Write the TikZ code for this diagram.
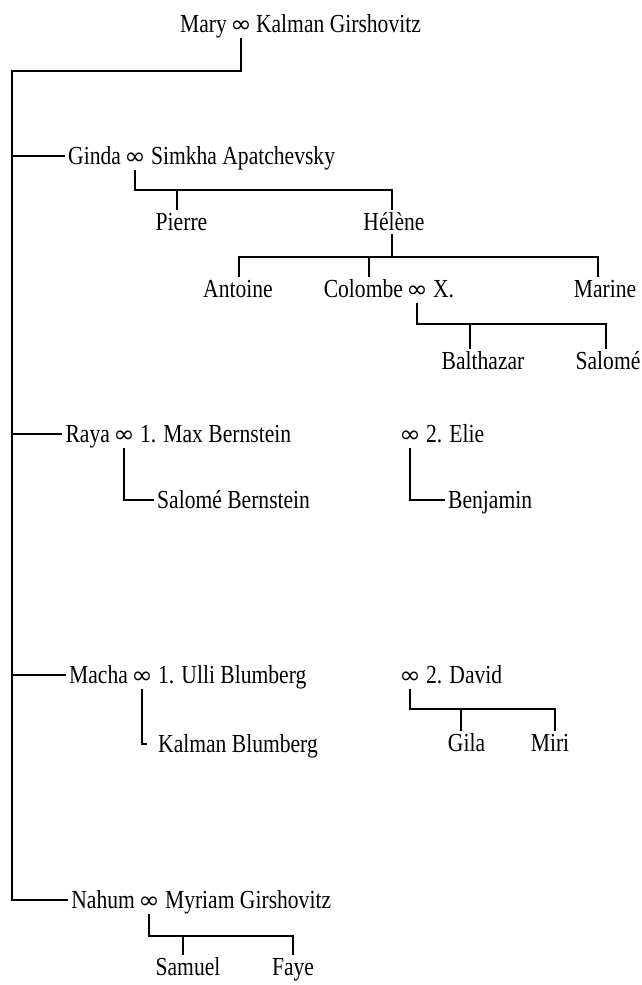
\documentclass[tikz,border=0pt]{standalone}
\usepackage{fontspec}
\usepackage{graphicx}
\setmainfont{Liberation Serif}[FakeStretch=0.83]
\newfontfamily\infont{DejaVu Sans}[Scale=0.95]
\newcommand{\marr}{\scalebox{1.08}[1]{\infont ∞}}
\tikzset{
  fam/.style={font=\fontsize{26}{30}\selectfont, inner xsep=3pt, inner ysep=3pt, text height=17pt, text depth=1pt},
  mar/.style={font=\fontsize{25}{30}\selectfont, inner xsep=0pt, inner ysep=6pt, text depth=0pt, anchor=base},
  link/.style={line width=1.1pt}
}
\begin{document}
\begin{tikzpicture}[x=1pt,y=-1pt]
\useasboundingbox (0,0) rectangle (642,985);
% top couple
\node[mar] (m0) at (241,32) {\marr};
\node[fam, anchor=base east] (mary) at (m0.base west) {Mary};
\node[fam, anchor=base west] (kalman) at ([xshift=1pt]m0.base east) {Kalman Girshovitz};
% Ginda
\node[mar] (m1) at (135,164) {\marr};
\node[fam, anchor=base east] (ginda) at (m1.base west) {Ginda};
\node[fam, anchor=base west] (simkha) at ([xshift=2pt]m1.base east) {Simkha Apatchevsky};
\node[fam, anchor=base] (pierre) at (181.5,230) {Pierre};
\node[fam, anchor=base] (helene) at (394,230) {Hélène};
\node[fam, anchor=base] (antoine) at (238,297) {Antoine};
\node[mar] (m2) at (417,297) {\marr};
\node[fam, anchor=base east] (colombe) at (m2.base west) {Colombe};
\node[fam, anchor=base west] (xx) at ([xshift=2pt]m2.base east) {X.};
\node[fam, anchor=base] (marine) at (605,297) {Marine};
\node[fam, anchor=base] (balthazar) at (483,369) {Balthazar};
\node[fam, anchor=base] (salome) at (608,369) {Salomé};
% Raya
\node[mar] (m3) at (124,442) {\marr};
\node[fam, anchor=base east] (raya) at (m3.base west) {Raya};
\node[fam, anchor=base west] (max) at ([xshift=2pt]m3.base east) {1. Max Bernstein};
\node[fam, anchor=base west] (salomeb) at (154,508) {Salomé Bernstein};
\node[mar] (m4) at (410,442) {\marr};
\node[fam, anchor=base west] (elie) at ([xshift=2pt]m4.base east) {2. Elie};
\node[fam, anchor=base west] (benjamin) at (445,508) {Benjamin};
% Macha
\node[mar] (m5) at (142,683) {\marr};
\node[fam, anchor=base east] (macha) at (m5.base west) {Macha};
\node[fam, anchor=base west] (ulli) at ([xshift=2pt]m5.base east) {1. Ulli Blumberg};
\node[fam, anchor=base west] (kalmanb) at (155,752) {Kalman Blumberg};
\node[mar] (m6) at (410,683) {\marr};
\node[fam, anchor=base west] (david) at ([xshift=2pt]m6.base east) {2. David};
\node[fam, anchor=base] (gila) at (466.5,751) {Gila};
\node[fam, anchor=base] (miri) at (550,751) {Miri};
% Nahum
\node[mar] (m7) at (149,908) {\marr};
\node[fam, anchor=base east] (nahum) at (m7.base west) {Nahum};
\node[fam, anchor=base west] (myriam) at ([xshift=2pt]m7.base east) {Myriam Girshovitz};
\node[fam, anchor=base] (samuel) at (188,975) {Samuel};
\node[fam, anchor=base] (faye) at (293,975) {Faye};

% trunk
\coordinate (tk) at (12,71);
\draw[link] (m0.south) |- (tk) -- (tk |- nahum.west) -- (nahum.west);
\draw[link] (tk |- ginda.west) -- (ginda.west);
\draw[link] (tk |- raya.west) -- (raya.west);
\draw[link] (tk |- macha.west) -- (macha.west);
% Ginda family
\coordinate (tP) at (177,190);
\coordinate (tH) at (392,190);
\draw[link] (m1.south) |- (tH) -- (tH |- helene.north);
\draw[link] (tP) -- (tP |- pierre.north);
% Helene family
\coordinate (tA) at (239,257);
\coordinate (tC) at (369,257);
\coordinate (tM) at (598,257);
\draw[link] (helene.south -| tH) -- (tH |- tA);
\draw[link] (tA |- antoine.north) -- (tA) -- (tM) -- (tM |- marine.north);
\draw[link] (tC) -- (tC |- colombe.north);
% Colombe family
\coordinate (tB) at (470,324);
\coordinate (tS) at (606,324);
\draw[link] (m2.south) |- (tS) -- (tS |- salome.north);
\draw[link] (tB) -- (tB |- balthazar.north);
% Raya
\draw[link] (m3.south) |- (salomeb.west);
\draw[link] (m4.south) |- (benjamin.west);
% Macha
\draw[link, shorten >=8pt] (m5.south) |- (kalmanb.west);
\coordinate (tG) at (461,709);
\coordinate (tMi) at (555,709);
\draw[link] (m6.south) |- (tMi) -- (tMi |- miri.north);
\draw[link] (tG) -- (tG |- gila.north);
% Nahum
\coordinate (tSa) at (183,936);
\coordinate (tF) at (293,936);
\draw[link] (m7.south) |- (tF) -- (tF |- faye.north);
\draw[link] (tSa) -- (tSa |- samuel.north);
\end{tikzpicture}
\end{document}
